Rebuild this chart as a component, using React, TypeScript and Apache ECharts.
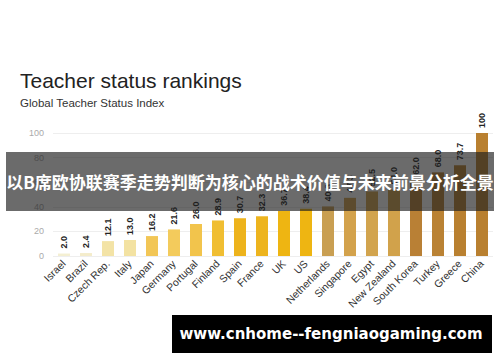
import React, { useEffect, useRef } from "react";
import * as echarts from "echarts";

const countries = [
  "Israel", "Brazil", "Czech Rep.", "Italy", "Japan", "Germany", "Portugal", "Finland", "Spain", "France",
  "UK", "US", "Netherlands", "Singapore", "Egypt", "New Zealand", "South Korea", "Turkey", "Greece", "China",
];
const indexValues = [2.0, 2.4, 12.1, 13.0, 16.2, 21.6, 26.0, 28.9, 30.7, 32.3, 36.7, 38.4, 40.3, 47.3, 52.5, 54.0, 62.0, 68.0, 73.7, 100];
const barColors = [
  "#f4efd2", "#f4eccb", "#f3e3a6", "#f3e2a2", "#f2c656", "#f3cb5c", "#f2c44c", "#f0be32", "#edb31c", "#edb41e",
  "#eeb512", "#eeb512", "#c99f52", "#d3a24c", "#d2a44e", "#d1a24b", "#b98035", "#ba8234", "#b98030", "#b98030",
];
const yTicks = [0, 20, 40, 60, 80, 100];

const titleText = "Teacher status rankings";
const subtitleText = "Global Teacher Status Index";
const bannerText = "以B席欧协联赛季走势判断为核心的战术价值与未来前景分析全景";
const footerText = "www.cnhome--fengniaogaming.com";

export default function App() {
  const ref = useRef<HTMLDivElement>(null);
  useEffect(() => {
    if (!ref.current) return;
    const chart = echarts.init(ref.current, undefined, { renderer: "svg" });
    chart.setOption({
      animation: false,
      backgroundColor: "#ffffff",
      grid: { left: 53, right: 7, top: 133, bottom: 106, containLabel: false },
      xAxis: {
        type: "category",
        data: countries,
        axisLine: { show: false },
        axisTick: { show: false },
        axisLabel: {
          rotate: 45,
          interval: 0,
          margin: 6,
          fontSize: 10.5,
          color: "#333",
          fontFamily: "Liberation Sans, Arial, sans-serif",
        },
      },
      yAxis: {
        type: "value",
        min: yTicks[0],
        max: yTicks[yTicks.length - 1],
        interval: 20,
        axisLine: { show: false },
        axisTick: { show: false },
        axisLabel: {
          fontSize: 9,
          color: "#aaa",
          margin: 9,
          fontFamily: "Liberation Sans, Arial, sans-serif",
        },
        splitLine: { lineStyle: { color: "#eeeeee", width: 1 } },
      },
      series: [
        {
          type: "bar",
          data: indexValues.map((v, i) => ({ value: v, itemStyle: { color: barColors[i] } })),
          barWidth: 12,
          label: {
            show: true,
            position: "top",
            rotate: 90,
            align: "left",
            verticalAlign: "middle",
            distance: 5,
            fontSize: 9,
            fontWeight: "bold",
            color: "#222",
            fontFamily: "Liberation Sans, Arial, sans-serif",
            formatter: (p: any) => (p.value === 100 ? "100" : Number(p.value).toFixed(1)),
          },
        },
      ],
      graphic: [
        {
          type: "text",
          x: 20,
          y: 80,
          z: 50,
          style: {
            text: titleText,
            font: "21px 'Liberation Sans', Arial, sans-serif",
            fill: "#222",
            textVerticalAlign: "middle",
          },
        },
        {
          type: "text",
          x: 20,
          y: 103,
          z: 50,
          style: {
            text: subtitleText,
            font: "11.5px 'Liberation Sans', Arial, sans-serif",
            fill: "#333",
            textVerticalAlign: "middle",
          },
        },
        {
          type: "rect",
          z: 100,
          shape: { x: 6, y: 152, width: 488, height: 59 },
          style: { fill: "rgba(30,30,30,0.66)" },
        },
        {
          type: "text",
          x: 250,
          y: 181.5,
          z: 101,
          style: {
            text: bannerText,
            font: "bold 17px 'Noto Sans CJK SC', sans-serif",
            fill: "#ffffff",
            textAlign: "center",
            textVerticalAlign: "middle",
          },
        },
        {
          type: "rect",
          z: 100,
          shape: { x: 172, y: 315, width: 320, height: 38 },
          style: { fill: "#000000" },
        },
        {
          type: "text",
          x: 331,
          y: 334,
          z: 101,
          style: {
            text: footerText,
            font: "bold 15px 'DejaVu Sans', 'Liberation Sans', sans-serif",
            fill: "#ffffff",
            textAlign: "center",
            textVerticalAlign: "middle",
          },
        },
      ],
    });
    return () => chart.dispose();
  }, []);
  return (
    <div
      ref={ref}
      style={{ position: "fixed", left: 0, top: 0, width: 500, height: 362 }}
    />
  );
}
